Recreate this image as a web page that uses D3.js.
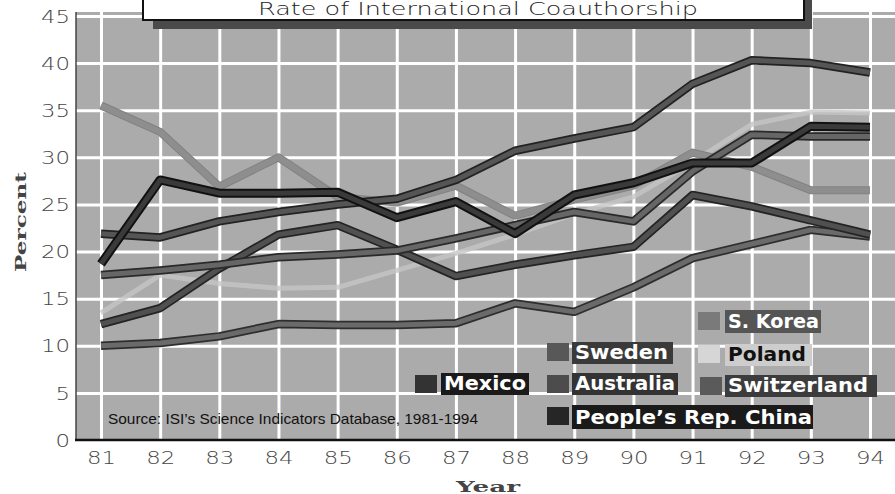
<!DOCTYPE html>
<html>
<head>
<meta charset="utf-8">
<script src="https://cdn.jsdelivr.net/npm/d3@7"></script>
<style>
  html, body { margin: 0; padding: 0; background: #fff; }
  svg { display: block; }
</style>
</head>
<body>
<svg id="chart" width="895" height="494"></svg>
<script>
// ---------------- DATA ----------------
const years = [81, 82, 83, 84, 85, 86, 87, 88, 89, 90, 91, 92, 93, 94];
const yTicks = [0, 5, 10, 15, 20, 25, 30, 35, 40, 45];

const sKorea      = [35.5, 32.7, 26.9, 30.0, 25.8, 25.2, 27.0, 23.8, 25.5, 27.0, 30.5, 29.0, 26.5, 26.5];
const poland      = [13.5, 17.5, 16.6, 16.1, 16.2, 18.0, 19.8, 21.8, 24.0, 25.8, 29.5, 33.5, 34.8, 34.7];
const australia   = [10.0, 10.3, 11.0, 12.3, 12.2, 12.2, 12.4, 14.5, 13.6, 16.2, 19.3, 20.8, 22.3, 21.6];
const sweden      = [12.3, 14.0, 18.2, 21.8, 22.8, 20.2, 17.4, 18.6, 19.6, 20.5, 26.0, 24.8, 23.3, 21.8];
const switzerland = [17.5, 18.0, 18.6, 19.4, 19.7, 20.1, 21.4, 22.8, 24.2, 23.2, 28.5, 32.4, 32.2, 32.2];
const mexico      = [21.9, 21.5, 23.2, 24.2, 25.0, 25.6, 27.6, 30.7, 32.0, 33.2, 37.8, 40.3, 40.0, 39.0];
const china       = [18.7, 27.6, 26.2, 26.2, 26.3, 23.6, 25.3, 21.9, 26.0, 27.3, 29.4, 29.4, 33.3, 33.2];

const seriesNames = ["Poland", "S. Korea", "Australia", "Sweden", "Switzerland", "Mexico", "People\u2019s Rep. China"];
const seriesValues = [poland, sKorea, australia, sweden, switzerland, mexico, china];

const titleText = "Rate of International Coauthorship";
const sourceText = "Source: ISI\u2019s Science Indicators Database, 1981-1994";

// ---------------- STYLES / LAYOUT ----------------
const styles = {
  "Poland":                 { inner: "#c6c6c6", outer: null,      wi: 5, wo: 0 },
  "S. Korea":               { inner: "#8e8e8e", outer: "#828282", wi: 6, wo: 8 },
  "Australia":              { inner: "#6a6a6a", outer: "#2e2e2e", wi: 5, wo: 8.5 },
  "Sweden":                 { inner: "#505050", outer: "#242424", wi: 5, wo: 8.5 },
  "Switzerland":            { inner: "#666666", outer: "#2a2a2a", wi: 5, wo: 8.5 },
  "Mexico":                 { inner: "#555555", outer: "#222222", wi: 5, wo: 8.5 },
  "People\u2019s Rep. China": { inner: "#3a3a3a", outer: "#111111", wi: 5, wo: 9 }
};

const legendLayout = [
  { name: "S. Korea",    sw: [698, 312], box: [725, 310, 96, 23], tl: 91,  swc: "#7a7a7a", bg: "#555555", fg: "#ffffff" },
  { name: "Sweden",      sw: [547, 343], box: [572, 342, 101, 22], tl: 93, swc: "#585858", bg: "#3a3a3a", fg: "#ffffff" },
  { name: "Poland",      sw: [698, 345], box: [725, 344, 87, 22], tl: 78,  swc: "#d6d6d6", bg: "#cdcdcd", fg: "#111111" },
  { name: "Mexico",      sw: [415, 375], box: [441, 373, 88, 22], tl: 82,  swc: "#333333", bg: "#1a1a1a", fg: "#ffffff" },
  { name: "Australia",   sw: [547, 375], box: [572, 373, 106, 22], tl: 100, swc: "#4c4c4c", bg: "#333333", fg: "#ffffff" },
  { name: "Switzerland", sw: [700, 377], box: [725, 375, 152, 22], tl: 140, swc: "#5a5a5a", bg: "#3c3c3c", fg: "#ffffff" },
  { name: "People\u2019s Rep. China", sw: [547, 407], box: [572, 405, 241, 24], tl: 237, swc: "#262626", bg: "#1a1a1a", fg: "#ffffff" }
];

// ---------------- DRAW ----------------
const svg = d3.select("#chart");
const plotLeft = 76, plotRight = 895, plotTop = 12, plotBottom = 440;

const x = d3.scaleLinear().domain([81, 94]).range([101, 870]);
const y = d3.scaleLinear().domain([0, 45]).range([440, 16]);

// plot background
svg.append("rect")
  .attr("x", plotLeft).attr("y", plotTop)
  .attr("width", plotRight - plotLeft).attr("height", plotBottom - plotTop)
  .attr("fill", "#ababab");

// horizontal gridlines
const gy = svg.append("g")
  .attr("transform", `translate(${plotLeft},0)`)
  .call(d3.axisLeft(y).tickValues(yTicks.filter(v => v > 0)).tickSize(-(plotRight - plotLeft)).tickFormat(""));
gy.select(".domain").remove();
gy.selectAll("line").attr("stroke", "#ffffff").attr("stroke-width", 3);

// vertical gridlines
const gx = svg.append("g")
  .attr("transform", `translate(0,${plotBottom})`)
  .call(d3.axisBottom(x).tickValues(years).tickSize(-(plotBottom - plotTop)).tickFormat(""));
gx.select(".domain").remove();
gx.selectAll("line").attr("stroke", "#ffffff").attr("stroke-width", 3);

// plot frame: left edge and baseline
svg.append("line").attr("x1", plotLeft).attr("x2", plotLeft)
  .attr("y1", plotTop).attr("y2", plotBottom + 1)
  .attr("stroke", "#444").attr("stroke-width", 1.5);
svg.append("line").attr("x1", plotLeft - 1).attr("x2", plotRight)
  .attr("y1", plotBottom).attr("y2", plotBottom)
  .attr("stroke", "#111").attr("stroke-width", 2.5);

// title box (cut off at top of the picture)
svg.append("rect").attr("x", 153).attr("y", -10).attr("width", 659).attr("height", 39)
  .attr("fill", "#4a4a4a");
svg.append("rect").attr("x", 143).attr("y", -10).attr("width", 661).attr("height", 30)
  .attr("fill", "#ffffff").attr("stroke", "#111").attr("stroke-width", 2);
svg.append("text")
  .attr("x", 478).attr("y", 15)
  .attr("text-anchor", "middle")
  .attr("font-family", "DejaVu Sans, sans-serif")
  .attr("font-weight", 200)
  .attr("font-size", 17)
  .attr("textLength", 440).attr("lengthAdjust", "spacingAndGlyphs")
  .attr("fill", "#222")
  .text(titleText);

// source text
svg.append("text")
  .attr("x", 108).attr("y", 424)
  .attr("font-family", "Liberation Sans Narrow, Liberation Sans, Arial, sans-serif")
  .attr("font-size", 15)
  .attr("textLength", 370).attr("lengthAdjust", "spacingAndGlyphs")
  .attr("fill", "#111")
  .text(sourceText);

// lines
const line = d3.line().x((d, i) => x(years[i])).y(d => y(d)).curve(d3.curveLinear);
const lg = svg.append("g");
seriesNames.forEach((name, k) => {
  const st = styles[name];
  if (st.outer) {
    lg.append("path").datum(seriesValues[k])
      .attr("d", line).attr("fill", "none")
      .attr("stroke", st.outer).attr("stroke-width", st.wo)
      .attr("stroke-linejoin", "round").attr("stroke-linecap", "butt");
  }
  lg.append("path").datum(seriesValues[k])
    .attr("d", line).attr("fill", "none")
    .attr("stroke", st.inner).attr("stroke-width", st.wi)
    .attr("stroke-linejoin", "round").attr("stroke-linecap", "butt")
    .attr("opacity", name === "Poland" ? 0.8 : 1);
});

// legend
const leg = svg.append("g");
legendLayout.forEach(it => {
  leg.append("rect").attr("x", it.sw[0]).attr("y", it.sw[1]).attr("width", 22).attr("height", 18)
    .attr("fill", it.swc);
  leg.append("rect").attr("x", it.box[0]).attr("y", it.box[1]).attr("width", it.box[2]).attr("height", it.box[3])
    .attr("fill", it.bg);
  leg.append("text")
    .attr("x", it.box[0] + 3).attr("y", it.box[1] + it.box[3] - 5)
    .attr("font-family", "DejaVu Sans, sans-serif")
    .attr("font-weight", "bold")
    .attr("font-size", 19)
    .attr("textLength", it.tl).attr("lengthAdjust", "spacingAndGlyphs")
    .attr("fill", it.fg)
    .text(it.name);
});

// y tick labels
const yl = svg.append("g")
  .attr("transform", "translate(70,0)")
  .call(d3.axisLeft(y).tickValues(yTicks).tickSize(0).tickPadding(0));
yl.select(".domain").remove();
yl.selectAll("text")
  .attr("font-family", "DejaVu Sans, sans-serif")
  .attr("font-weight", 200)
  .attr("font-size", 17)
  .attr("fill", "#444")
  .attr("dy", "0.36em")
  .each(function(d) { d3.select(this).attr("textLength", String(d).length * 14.5).attr("lengthAdjust", "spacingAndGlyphs"); });

// x tick labels
const xl = svg.append("g")
  .attr("transform", "translate(0,450)")
  .call(d3.axisBottom(x).tickValues(years).tickSize(0).tickPadding(0));
xl.select(".domain").remove();
xl.selectAll("text")
  .attr("font-family", "DejaVu Sans, sans-serif")
  .attr("font-weight", 200)
  .attr("font-size", 17)
  .attr("fill", "#444")
  .attr("dy", "0.8em")
  .attr("textLength", 29).attr("lengthAdjust", "spacingAndGlyphs");

// axis titles
svg.append("text")
  .attr("transform", "translate(26,222) rotate(-90)")
  .attr("text-anchor", "middle")
  .attr("font-family", "DejaVu Serif, serif")
  .attr("font-weight", "bold")
  .attr("font-size", 15)
  .attr("textLength", 100).attr("lengthAdjust", "spacingAndGlyphs")
  .attr("fill", "#444")
  .text("Percent");
svg.append("text")
  .attr("x", 488).attr("y", 492)
  .attr("text-anchor", "middle")
  .attr("font-family", "DejaVu Serif, serif")
  .attr("font-weight", "bold")
  .attr("font-size", 14)
  .attr("textLength", 64).attr("lengthAdjust", "spacingAndGlyphs")
  .attr("fill", "#444")
  .text("Year");
</script>
</body>
</html>
